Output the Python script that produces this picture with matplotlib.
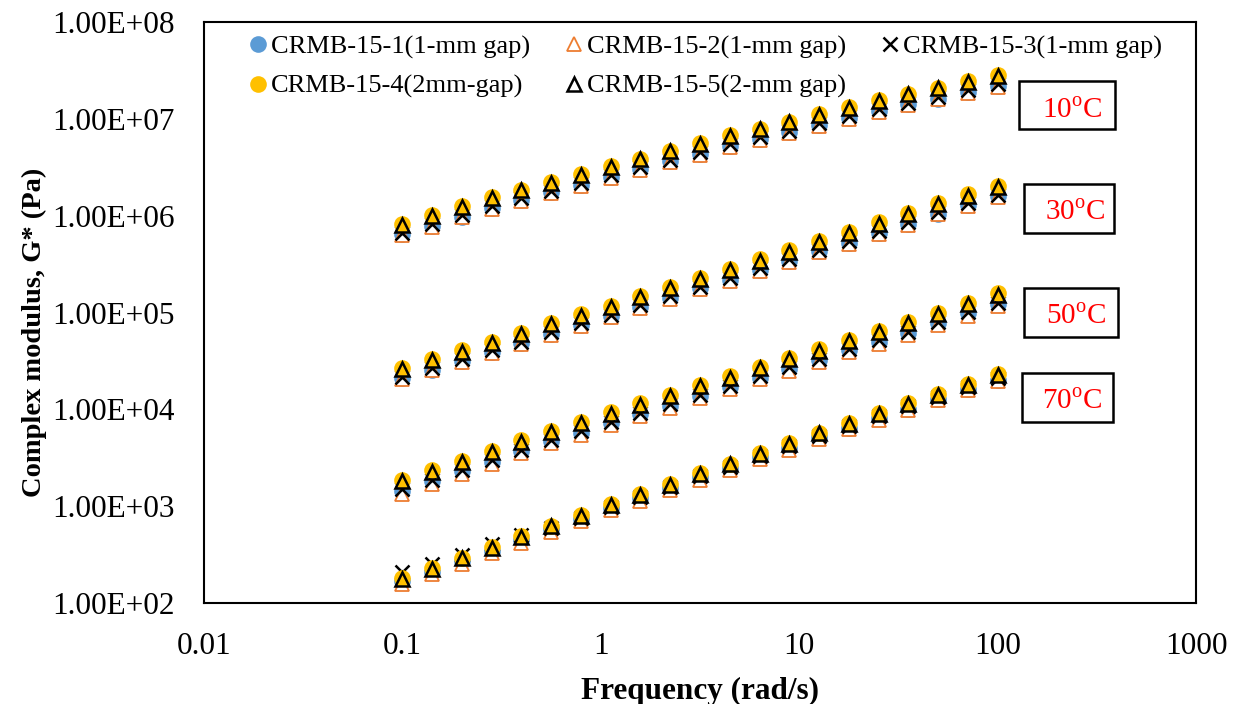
import matplotlib
matplotlib.use("Agg")
import matplotlib.pyplot as plt
from matplotlib.patches import Rectangle
from matplotlib.ticker import FixedLocator, FuncFormatter, NullLocator

plt.rcParams['font.family'] = ['Liberation Serif', 'DejaVu Serif']
plt.rcParams['mathtext.fontset'] = 'custom'
plt.rcParams['mathtext.rm'] = 'Liberation Serif'

# angular frequency of the sweep (rad/s)
freq = [0.1, 0.1413, 0.1995, 0.2818, 0.3981, 0.5623, 0.7943, 1.122, 1.585, 2.239,
        3.162, 4.467, 6.310, 8.913, 12.59, 17.78, 25.12, 35.48, 50.12, 70.79, 100.0]

# CRMB-15-1 (1-mm gap)
s1_10 = [6.4e5, 7.9e5, 9.8e5, 1.20e6, 1.44e6, 1.74e6, 2.09e6, 2.51e6, 3.02e6, 3.63e6, 4.36e6,
         5.25e6, 6.16e6, 7.24e6, 8.7e6, 1.02e7, 1.20e7, 1.41e7, 1.62e7, 1.90e7, 2.19e7]
s1_30 = [2.09e4, 2.57e4, 3.16e4, 3.89e4, 4.79e4, 6.02e4, 7.41e4, 9.1e4, 1.15e5, 1.41e5, 1.78e5,
         2.19e5, 2.75e5, 3.39e5, 4.27e5, 5.25e5, 6.60e5, 8.3e5, 1.05e6, 1.29e6, 1.58e6]
s1_50 = [1.44e3, 1.82e3, 2.29e3, 2.89e3, 3.72e3, 4.68e3, 5.75e3, 7.24e3, 8.9e3, 1.09e4, 1.38e4,
         1.70e4, 2.13e4, 2.63e4, 3.24e4, 4.07e4, 5.01e4, 6.16e4, 7.76e4, 9.8e4, 1.23e5]
s1_70 = [167, 210, 270, 348, 448, 576, 740, 955, 1200, 1540, 1980,
         2480, 3200, 4020, 5160, 6490, 8160, 10200, 12900, 16100, 20200]

# CRMB-15-2 (1-mm gap)
s2_10 = [6.3e5, 7.7e5, 9.6e5, 1.18e6, 1.41e6, 1.70e6, 2.04e6, 2.46e6, 2.96e6, 3.56e6, 4.27e6,
         5.14e6, 6.03e6, 7.09e6, 8.5e6, 1.00e7, 1.18e7, 1.38e7, 1.59e7, 1.86e7, 2.14e7]
s2_30 = [2.04e4, 2.52e4, 3.09e4, 3.81e4, 4.69e4, 5.90e4, 7.26e4, 8.9e4, 1.12e5, 1.38e5, 1.74e5,
         2.14e5, 2.70e5, 3.32e5, 4.18e5, 5.14e5, 6.47e5, 8.1e5, 1.03e6, 1.26e6, 1.55e6]
s2_50 = [1.32e3, 1.68e3, 2.13e3, 2.71e3, 3.50e3, 4.46e3, 5.48e3, 6.90e3, 8.5e3, 1.04e4, 1.32e4,
         1.62e4, 2.04e4, 2.51e4, 3.09e4, 3.89e4, 4.78e4, 5.88e4, 7.40e4, 9.3e4, 1.17e5]
s2_70 = [157, 197, 254, 327, 421, 543, 699, 903, 1135, 1460, 1880,
         2365, 3050, 3840, 4950, 6230, 7840, 9890, 12500, 15700, 19700]

# CRMB-15-3 (1-mm gap)
s3_10 = [6.7e5, 8.3e5, 1.02e6, 1.26e6, 1.51e6, 1.81e6, 2.18e6, 2.62e6, 3.15e6, 3.79e6, 4.55e6,
         5.48e6, 6.43e6, 7.56e6, 9.1e6, 1.07e7, 1.26e7, 1.47e7, 1.69e7, 1.98e7, 2.28e7]
s3_30 = [2.18e4, 2.68e4, 3.30e4, 4.06e4, 5.00e4, 6.29e4, 7.74e4, 9.5e4, 1.20e5, 1.47e5, 1.85e5,
         2.28e5, 2.88e5, 3.54e5, 4.46e5, 5.48e5, 6.89e5, 8.7e5, 1.09e6, 1.34e6, 1.65e6]
s3_50 = [1.49e3, 1.87e3, 2.36e3, 2.98e3, 3.83e3, 4.82e3, 5.93e3, 7.46e3, 9.2e3, 1.13e4, 1.42e4,
         1.75e4, 2.20e4, 2.71e4, 3.34e4, 4.20e4, 5.17e4, 6.35e4, 8.0e4, 1.01e5, 1.26e5]
s3_70 = [208, 255, 315, 405, 500, 600, 760, 975, 1230, 1580, 2040,
         2560, 3300, 4160, 5350, 6730, 8480, 10700, 13500, 16900, 21300]

# CRMB-15-4 (2mm-gap)
s4_10 = [8.3e5, 1.02e6, 1.26e6, 1.55e6, 1.86e6, 2.24e6, 2.69e6, 3.24e6, 3.89e6, 4.68e6, 5.62e6,
         6.76e6, 7.94e6, 9.33e6, 1.12e7, 1.32e7, 1.55e7, 1.82e7, 2.09e7, 2.45e7, 2.82e7]
s4_30 = [2.69e4, 3.31e4, 4.07e4, 5.01e4, 6.17e4, 7.76e4, 9.55e4, 1.17e5, 1.48e5, 1.82e5, 2.29e5,
         2.82e5, 3.55e5, 4.37e5, 5.50e5, 6.76e5, 8.51e5, 1.07e6, 1.35e6, 1.66e6, 2.04e6]
s4_50 = [1.86e3, 2.34e3, 2.95e3, 3.72e3, 4.79e3, 6.03e3, 7.41e3, 9.33e3, 1.15e4, 1.41e4, 1.78e4,
         2.19e4, 2.75e4, 3.39e4, 4.17e4, 5.25e4, 6.46e4, 7.94e4, 1.00e5, 1.26e5, 1.58e5]
s4_70 = [182, 229, 295, 380, 490, 631, 813, 1050, 1320, 1700, 2190,
         2750, 3550, 4470, 5750, 7240, 9120, 11500, 14500, 18200, 22900]

# CRMB-15-5 (2-mm gap)
s5_10 = [8.1e5, 1.00e6, 1.23e6, 1.52e6, 1.83e6, 2.20e6, 2.64e6, 3.18e6, 3.82e6, 4.60e6, 5.52e6,
         6.64e6, 7.80e6, 9.17e6, 1.10e7, 1.30e7, 1.52e7, 1.79e7, 2.06e7, 2.41e7, 2.78e7]
s5_30 = [2.61e4, 3.21e4, 3.95e4, 4.86e4, 5.98e4, 7.53e4, 9.26e4, 1.14e5, 1.44e5, 1.77e5, 2.22e5,
         2.74e5, 3.44e5, 4.24e5, 5.34e5, 6.56e5, 8.25e5, 1.04e6, 1.31e6, 1.61e6, 1.98e6]
s5_50 = [1.80e3, 2.27e3, 2.86e3, 3.61e3, 4.65e3, 5.85e3, 7.19e3, 9.05e3, 1.12e4, 1.37e4, 1.73e4,
         2.12e4, 2.67e4, 3.29e4, 4.04e4, 5.09e4, 6.27e4, 7.70e4, 9.7e4, 1.22e5, 1.53e5]
s5_70 = [178, 224, 289, 372, 480, 618, 797, 1030, 1290, 1670, 2150,
         2700, 3480, 4380, 5640, 7100, 8940, 11300, 14200, 17800, 22400]

labels = ['CRMB-15-1(1-mm gap)', 'CRMB-15-2(1-mm gap)', 'CRMB-15-3(1-mm gap)',
          'CRMB-15-4(2mm-gap)', 'CRMB-15-5(2-mm gap)']
temp_labels = ['10', '30', '50', '70']

samples = [
    [s1_10, s1_30, s1_50, s1_70],
    [s2_10, s2_30, s2_50, s2_70],
    [s3_10, s3_30, s3_50, s3_70],
    [s4_10, s4_30, s4_50, s4_70],
    [s5_10, s5_30, s5_50, s5_70],
]
styles = [
    dict(marker='o', ms=12, mfc='#5B9BD5', mec='#5B9BD5', mew=0),
    dict(marker='^', ms=10.5, mfc='white', mec='#ED7D31', mew=1.3),
    dict(marker='x', ms=10, mec='black', mew=1.8),
    dict(marker='o', ms=12, mfc='#FFC000', mec='#FFC000', mew=0),
    dict(marker='^', ms=10.5, mfc='none', mec='black', mew=1.8),
]

fig = plt.figure(figsize=(12.39, 7.04), dpi=100)
ax = fig.add_axes([204 / 1239, 1 - 603 / 704, 992 / 1239, 581 / 704])

handles = []
for i, (curves, st) in enumerate(zip(samples, styles)):
    for j, g in enumerate(curves):
        line, = ax.plot(freq, g, ls='none', zorder=3 + i, clip_on=False,
                        label=labels[i] if j == 0 else None, **st)
        if j == 0:
            handles.append(line)

ax.set_xscale('log')
ax.set_yscale('log')
ax.set_xlim(0.01, 1000)
ax.set_ylim(1e2, 1e8)

ax.xaxis.set_major_locator(FixedLocator([0.01, 0.1, 1, 10, 100, 1000]))
ax.xaxis.set_major_formatter(FuncFormatter(lambda v, p: f'{v:g}'))
ax.yaxis.set_major_locator(FixedLocator([1e2, 1e3, 1e4, 1e5, 1e6, 1e7, 1e8]))
ax.yaxis.set_major_formatter(FuncFormatter(lambda v, p: f'{v:.2E}'))
ax.xaxis.set_minor_locator(NullLocator())
ax.yaxis.set_minor_locator(NullLocator())
ax.tick_params(axis='both', length=0, labelsize=22.5)
ax.tick_params(axis='x', pad=21)
ax.tick_params(axis='y', pad=21)
for sp in ax.spines.values():
    sp.set_linewidth(1.5)

ax.set_xlabel('Frequency (rad/s)', fontsize=22.5, fontweight='bold')
ax.set_ylabel('Complex modulus, G* (Pa)', fontsize=20.5, fontweight='bold')
ax.xaxis.set_label_coords(0.5, -0.127)
ax.yaxis.set_label_coords(-0.158, 0.466)

order = [0, 3, 1, 4, 2]
ax.legend([handles[k] for k in order], [labels[k] for k in order],
          loc='upper left', bbox_to_anchor=(0.045, 0.978), ncol=3, frameon=False,
          fontsize=19, handlelength=0.7, handletextpad=0.15, columnspacing=1.3,
          labelspacing=0.6, borderpad=0, borderaxespad=0)

# temperature tags (box corners and text centre, axes fraction)
tag_boxes = [
    (0.8216, 0.8158, 0.0967, 0.0827, 0.875, 0.847),
    (0.8266, 0.6368, 0.0907, 0.0844, 0.878, 0.672),
    (0.8266, 0.4578, 0.0948, 0.0844, 0.879, 0.492),
    (0.8246, 0.3115, 0.0917, 0.0844, 0.875, 0.346),
]
for t, (x0, y0, w, h, tx, ty) in zip(temp_labels, tag_boxes):
    ax.add_patch(Rectangle((x0, y0), w, h, transform=ax.transAxes, fill=False,
                           ec='black', lw=1.8, zorder=10))
    ax.text(tx, ty, t + r'$^{\rm o}$C', transform=ax.transAxes, color='red',
            fontsize=21, ha='center', va='center', zorder=11)

fig.savefig('out.png', dpi=100)
